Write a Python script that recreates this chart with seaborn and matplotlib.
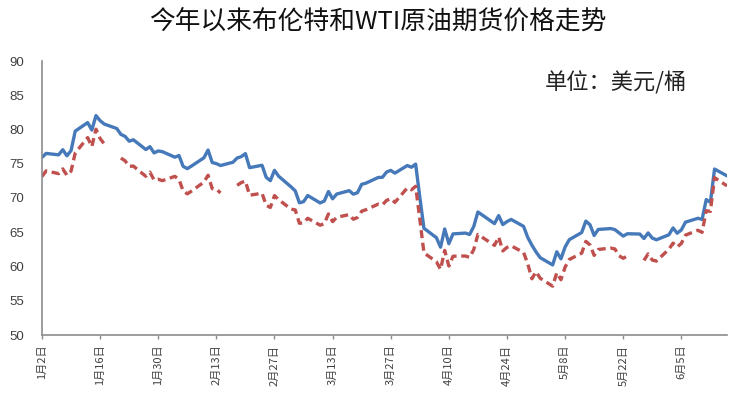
import numpy as np
import pandas as pd
import matplotlib
matplotlib.use("Agg")
import matplotlib.pyplot as plt
import matplotlib.dates as mdates
import seaborn as sns

# Trading days 2 Jan - 16 Jun 2025 (Good Friday 18 Apr closed for both)
dates = pd.bdate_range("2025-01-02", "2025-06-16")
dates = dates[dates != pd.Timestamp("2025-04-18")]

brent = [
    # Jan
    75.93, 76.51, 76.30, 77.05, 76.16, 76.92, 79.76, 81.01, 79.92, 82.03, 81.29, 80.79,
    80.15, 79.29, 79.00, 78.29, 78.50, 77.08, 77.49, 76.58, 76.87, 76.76,
    # Feb
    75.96, 76.20, 74.61, 74.29, 74.66, 75.87, 77.00, 75.18, 75.02, 74.74,
    75.22, 75.84, 76.04, 76.48, 74.43, 74.78, 73.02, 72.53, 74.04, 73.18,
    # Mar
    71.62, 71.04, 69.30, 69.46, 70.36, 69.28, 69.56, 70.95, 69.88, 70.58,
    71.07, 70.56, 70.78, 72.00, 72.16, 73.00, 73.02, 73.79, 74.03, 73.63, 74.74,
    # Apr
    74.49, 74.95, 70.14, 65.58, 64.21, 62.82, 65.48, 63.33, 64.76, 64.88, 64.67,
    65.85, 67.96, 66.26, 67.44, 66.12, 66.55, 66.87, 65.86, 64.25, 63.12,
    # May
    62.13, 61.29, 60.23, 62.15, 61.12, 62.84, 63.91, 64.96, 66.63, 66.09, 64.53,
    65.41, 65.54, 65.38, 64.91, 64.44, 64.78, 64.74, 64.09, 64.90, 64.15, 63.90,
    # Jun
    64.63, 65.63, 64.86, 65.34, 66.47, 67.04, 66.87, 69.77, 69.36, 74.23, 73.23,
]

wti = [
    # Jan
    73.13, 73.96, 73.56, 74.25, 73.32, 73.92, 76.57, 78.82, 77.50, 80.04, 78.68, 77.88,
    np.nan, 75.83, 75.44, 74.62, 74.66, 73.17, 73.77, 72.62, 72.73, 72.53,
    # Feb
    73.16, 72.70, 71.03, 70.61, 71.00, 72.32, 73.32, 71.37, 71.29, 70.74,
    np.nan, 71.85, 72.25, 72.48, 70.40, 70.70, 68.93, 68.62, 70.35, 69.76,
    # Mar
    68.37, 68.26, 66.31, 66.36, 67.04, 66.03, 66.25, 67.68, 66.55, 67.18,
    67.58, 66.90, 67.16, 68.07, 68.28, 69.11, 69.00, 69.65, 69.92, 69.36, 71.48,
    # Apr
    71.20, 71.71, 66.95, 61.99, 60.70, 59.58, 62.35, 60.07, 61.50, 61.53, 61.33,
    62.47, 64.68, 63.08, 64.31, 62.27, 62.79, 63.02, 62.05, 60.42, 58.21,
    # May
    59.24, 58.29, 57.13, 59.09, 58.07, 59.91, 61.02, 61.95, 63.67, 63.15, 61.62,
    62.49, 62.69, 62.56, 61.57, 61.20, 61.53, np.nan, 60.89, 61.84, 60.94, 60.79,
    # Jun
    62.52, 63.41, 62.85, 63.37, 64.58, 65.29, 64.98, 68.15, 68.04, 72.98, 71.77,
]

y_ticks = [50, 55, 60, 65, 70, 75, 80, 85, 90]
title = "今年以来布伦特和WTI原油期货价格走势"
unit_label = "单位：美元/桶"

df = pd.DataFrame({"date": dates, "brent": brent, "wti": wti})
# segment ids so that missing WTI days leave gaps
df["seg"] = df["wti"].isna().cumsum()
wti_df = df.dropna(subset=["wti"])

sns.set_theme(style="white")
plt.rcParams["font.family"] = ["Noto Sans CJK SC", "DejaVu Sans"]

fig = plt.figure(figsize=(7.44, 3.99), dpi=100)
ax = fig.add_axes([42 / 744, 1 - 335 / 399, (727 - 42) / 744, (335 - 61) / 399])

blue = "#4679B9"
red = "#C0504D"

sns.lineplot(data=df, x="date", y="brent", ax=ax, color=blue, linewidth=2.4,
             estimator=None, legend=False)
sns.lineplot(data=wti_df, x="date", y="wti", units="seg", estimator=None, ax=ax,
             color=red, linewidth=2.4, linestyle=(0, (2.4, 1.4)), legend=False)

ax.set_xlim(pd.Timestamp("2025-01-02"), pd.Timestamp("2025-06-16"))
ax.set_ylim(50, 90)
ax.set_yticks(y_ticks)
ax.set_yticklabels([str(v) for v in y_ticks], fontfamily="Liberation Sans",
                   fontsize=9.5, color="#404040")

xt = pd.date_range("2025-01-02", "2025-06-16", freq="14D")
ax.set_xticks(xt)
ax.set_xticklabels([f"{d.month}月{d.day}日" for d in xt], rotation=90,
                   fontsize=8, color="#404040")
ax.set_xlabel("")
ax.set_ylabel("")

for s in ["top", "right"]:
    ax.spines[s].set_visible(False)
for s in ["left", "bottom"]:
    ax.spines[s].set_color("#8c8c8c")
    ax.spines[s].set_linewidth(1.2)

ax.tick_params(axis="y", length=0, pad=13)
ax.tick_params(axis="x", length=3, width=1, color="#8c8c8c", direction="out",
               pad=4, bottom=True)
ax.grid(False)

fig.text(0.508, 1 - 22 / 399, title, ha="center", va="center", fontsize=18.5,
         color="#111111")
fig.text(545 / 744, 1 - 83 / 399, unit_label, ha="left", va="center",
         fontsize=16, color="#222222")

fig.savefig("out.png", dpi=100)
